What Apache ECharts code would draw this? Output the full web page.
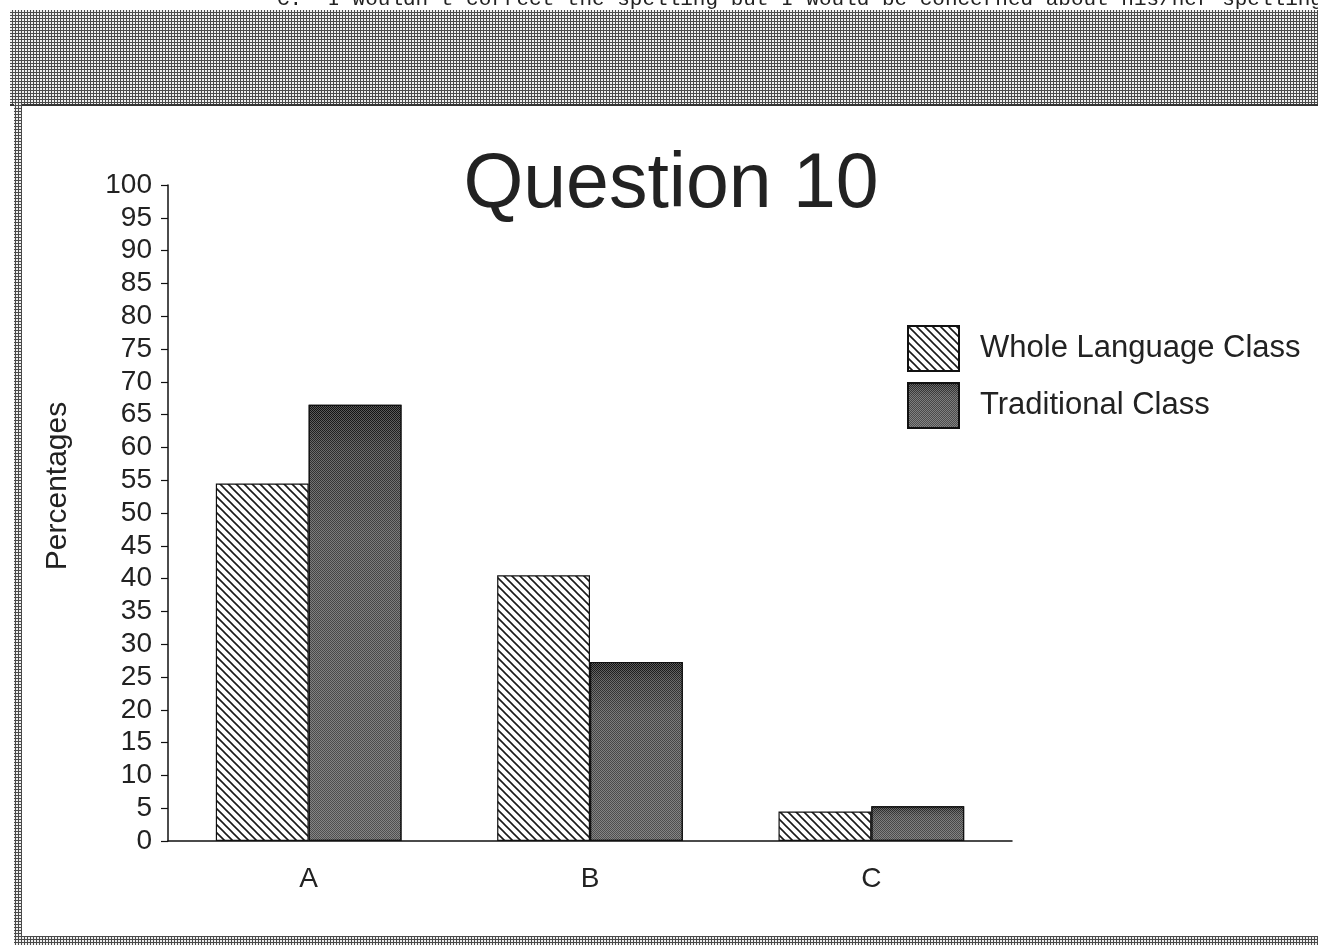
<!DOCTYPE html>
<html>
<head>
<meta charset="utf-8">
<title>Question 10</title>
<script src="https://cdn.jsdelivr.net/npm/echarts@6/dist/echarts.min.js"></script>
<style>
  html, body { margin: 0; padding: 0; background: #fff; }
  #chart { width: 1318px; height: 948px; }
</style>
</head>
<body>
<div id="chart"></div>
<script>
const categories = ['A', 'B', 'C']
const seriesNames = ['Whole Language Class', 'Traditional Class']
const wholeLanguage = [54.5, 40.5, 4.5]
const traditional = [66.5, 27.3, 5.3]
const yTicks = { min: 0, max: 100, step: 5 }
const headerText = 'C.  I wouldn\'t correct the spelling but I would be concerned about his/her spelling'

// little canvas textures for the scanned look
function makePattern(size, draw) {
  const c = document.createElement('canvas')
  c.width = size; c.height = size
  draw(c.getContext('2d'), size)
  return { image: c, repeat: 'repeat' }
}

const hatch = makePattern(8, (ctx, s) => {
  ctx.fillStyle = '#fff'
  ctx.fillRect(0, 0, s, s)
  ctx.strokeStyle = '#1a1a1a'
  ctx.lineWidth = 1.6
  ctx.beginPath()
  ctx.moveTo(-1, -1); ctx.lineTo(s + 1, s + 1)
  ctx.moveTo(-1, s - 1); ctx.lineTo(1, s + 1)
  ctx.moveTo(s - 1, -1); ctx.lineTo(s + 1, 1)
  ctx.stroke()
})

const screen = makePattern(3, (ctx, s) => {
  ctx.fillStyle = '#eeeeee'
  ctx.fillRect(0, 0, s, s)
  ctx.fillStyle = '#4a4a4a'
  ctx.fillRect(0, 0, 1, s)
  ctx.fillRect(0, 0, s, 1)
})

const darkGrad = {
  type: 'linear', x: 0, y: 0, x2: 0, y2: 1,
  colorStops: [
    { offset: 0, color: '#0e0e0e' },
    { offset: 0.1, color: '#2c2c2c' },
    { offset: 0.3, color: '#444' },
    { offset: 1, color: '#505050' }
  ]
}

const stipple = {
  symbol: 'rect', symbolSize: 1,
  dashArrayX: [[1, 1], [0, 1, 1, 0]],
  dashArrayY: [1, 0],
  color: 'rgba(255,255,255,0.3)'
}

const chart = echarts.init(document.getElementById('chart'), null, { renderer: 'canvas' })

const font = 'Liberation Sans, Arial, Helvetica, sans-serif'

const option = {
  backgroundColor: '#fff',
  animation: false,
  title: {
    text: 'Question 10',
    left: 666, top: 142,
    textAlign: 'center',
    textStyle: { fontFamily: font, fontSize: 77, fontWeight: 'normal', color: '#222' }
  },
  legend: {
    orient: 'vertical',
    left: 902, top: 320,
    itemWidth: 51, itemHeight: 45, itemGap: 10,
    icon: 'rect',
    textStyle: { fontFamily: font, fontSize: 31, color: '#222', padding: [0, 0, 0, 16] },
    data: seriesNames
  },
  grid: { left: 168, right: 306, top: 185, bottom: 107, containLabel: false },
  xAxis: {
    type: 'category',
    data: categories,
    axisLine: { lineStyle: { color: '#111', width: 1.5 } },
    axisTick: { alignWithLabel: true, length: 12, lineStyle: { color: '#111', width: 1.2 } },
    axisLabel: { fontFamily: font, fontSize: 28, color: '#222', margin: 24 },
    splitLine: { show: false }
  },
  yAxis: {
    type: 'value',
    min: yTicks.min, max: yTicks.max, interval: yTicks.step,
    name: 'Percentages',
    nameLocation: 'middle',
    nameGap: 95,
    nameTextStyle: { fontFamily: font, fontSize: 30, color: '#222', padding: [0, 0, 0, 54] },
    axisLine: { show: true, lineStyle: { color: '#111', width: 1.5 } },
    axisTick: { show: true, length: 7, lineStyle: { color: '#111', width: 1.2 } },
    axisLabel: { fontFamily: font, fontSize: 28, color: '#222', margin: 16 },
    splitLine: { show: false }
  },
  series: [
    {
      name: seriesNames[0], type: 'bar',
      data: wholeLanguage,
      barWidth: '33%', barGap: '0%',
      itemStyle: { color: hatch, borderColor: '#111', borderWidth: 1.2 }
    },
    {
      name: seriesNames[1], type: 'bar',
      data: traditional,
      barWidth: '33%', barGap: '0%',
      itemStyle: { color: darkGrad, decal: stipple, borderColor: '#111', borderWidth: 1.2 }
    }
  ],
  graphic: [
    {
      type: 'rect', silent: true, z: -1,
      shape: { x: 10, y: 10, width: 1308, height: 96 },
      style: { fill: screen }
    },
    {
      type: 'rect', silent: true, z: -1,
      shape: { x: 10, y: 104, width: 1308, height: 2 },
      style: { fill: '#333' }
    },
    {
      type: 'rect', silent: true, z: -1,
      shape: { x: 14, y: 100, width: 8, height: 845 },
      style: { fill: screen }
    },
    {
      type: 'rect', silent: true, z: -1,
      shape: { x: 14, y: 936, width: 1304, height: 9 },
      style: { fill: screen }
    },
    {
      type: 'text', silent: true,
      x: 277, y: -11,
      style: {
        text: headerText,
        fontFamily: 'Liberation Mono, Courier New, monospace',
        fontSize: 21, fill: '#222',
        textVerticalAlign: 'top'
      }
    }
  ]
}

chart.setOption(option)
</script>
</body>
</html>
